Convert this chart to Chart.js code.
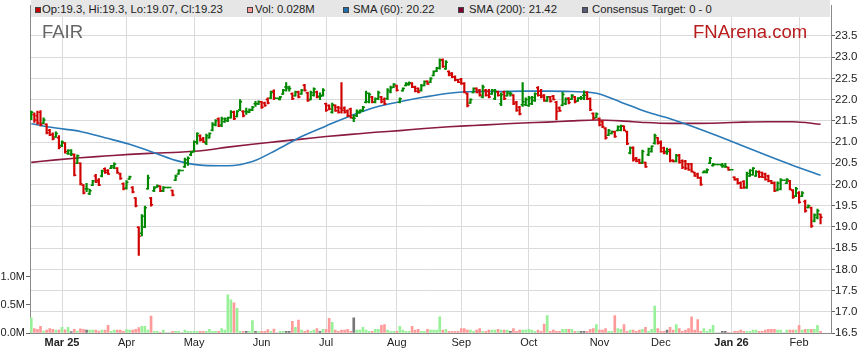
<!DOCTYPE html>
<html>
<head>
<meta charset="utf-8">
<script src="https://cdn.jsdelivr.net/npm/chart.js@4.4.1/dist/chart.umd.min.js"></script>
<style>
  body { margin: 0; background: #fff; font-family: "Liberation Sans", Arial, sans-serif; }
  #wrap { position: relative; width: 859px; height: 363px; }
  #graphic-price { position: absolute; left: 0; top: 0; }
  #legend-bar { position: absolute; left: 31px; top: 0; width: 799px; height: 17px; background: #e6e6e6; }
  .sq { position: absolute; top: 7px; width: 4px; height: 4px; border: 1px solid #444; }
  .txt { position: absolute; top: 3px; font-size: 11.3px; line-height: 13px; color: #222; white-space: nowrap; }
  .mark { position: absolute; top: 23px; font-size: 18.5px; line-height: 1; white-space: nowrap; }
</style>
</head>
<body>
<div id="wrap">
  <canvas id="graphic-price" width="859" height="363"></canvas>
  <div id="legend-bar"></div>
  <div class="sq" style="left:35px;background:#cc0000"></div>
  <div class="txt" style="left:42px">Op:19.3, Hi:19.3, Lo:19.07, Cl:19.23</div>
  <div class="sq" style="left:247px;background:#ff9999"></div>
  <div class="txt" style="left:255px">Vol: 0.028M</div>
  <div class="sq" style="left:343px;background:#1f6eb0"></div>
  <div class="txt" style="left:353px">SMA (60): 20.22</div>
  <div class="sq" style="left:458px;background:#800030"></div>
  <div class="txt" style="left:469px">SMA (200): 21.42</div>
  <div class="sq" style="left:582px;background:#5a5a7a"></div>
  <div class="txt" style="left:592px">Consensus Target: 0 - 0</div>
  <div class="mark" style="left:42px;color:#666">FAIR</div>
  <div class="mark" style="left:693px;color:#b81c1c">FNArena.com</div>
</div>
<script>
// trading day index of the first day of each month, and the axis text
const monthTicks = [10, 31, 53, 75, 96, 119, 140, 162, 185, 205, 228, 250];
const monthLabels = ['Mar 25', 'Apr', 'May', 'Jun', 'Jul', 'Aug', 'Sep', 'Oct', 'Nov', 'Dec', 'Jan 26', 'Feb'];
const priceTicks = [16.5, 17, 17.5, 18, 18.5, 19, 19.5, 20, 20.5, 21, 21.5, 22, 22.5, 23, 23.5];
const volTicks = [0, 0.5, 1];

const openPx = [
  21.58,21.65,21.62,21.70,21.45,21.42,21.28,21.18,21.12,21.10,
  20.92,20.98,20.73,20.72,20.70,20.50,20.50,19.98,19.90,19.78,
  19.98,20.20,20.10,20.20,20.37,20.33,20.38,20.40,20.38,20.25,
  20.02,19.92,20.13,19.93,19.68,18.99,18.85,19.00,19.90,19.68,
  19.85,19.94,19.96,19.84,19.93,19.93,19.86,20.10,20.25,20.33,
  20.42,20.50,20.70,20.78,21.00,21.15,21.08,20.98,21.10,21.28,
  21.40,21.55,21.40,21.48,21.50,21.58,21.70,21.60,21.76,21.72,
  21.72,21.70,21.75,21.90,21.90,21.95,21.92,22.00,22.04,22.20,
  22.03,22.00,22.13,22.30,22.26,22.14,22.09,22.18,22.13,22.34,
  22.16,22.00,22.10,22.18,22.08,22.10,21.90,21.86,21.70,21.86,
  21.82,21.80,21.80,21.74,21.78,21.56,21.62,21.69,21.74,21.94,
  21.95,22.06,21.94,22.02,22.06,22.00,22.02,22.18,22.29,22.32,
  21.94,22.21,22.33,22.35,22.38,22.30,22.26,22.22,22.33,22.43,
  22.41,22.57,22.67,22.74,22.94,22.73,22.66,22.62,22.54,22.47,
  22.48,22.38,22.14,21.92,22.17,22.26,22.22,22.06,22.22,22.20,
  22.13,22.02,22.18,21.90,22.18,22.09,22.14,22.10,21.94,21.82,
  21.88,21.88,21.86,21.90,21.98,22.28,22.20,22.10,21.97,22.06,
  22.08,21.94,21.80,21.87,21.90,22.03,22.01,22.06,21.97,22.04,
  22.10,22.17,22.02,21.67,21.58,21.55,21.48,21.32,21.16,21.20,
  21.24,21.27,21.28,21.37,21.24,20.74,20.87,20.62,20.58,20.52,
  20.52,20.70,20.78,20.97,21.10,21.00,20.86,20.78,20.82,20.57,
  20.55,20.69,20.56,20.55,20.48,20.48,20.28,20.25,20.16,20.28,
  20.28,20.50,20.45,20.47,20.47,20.45,20.42,20.40,20.35,20.17,
  20.13,20.04,20.07,19.93,20.20,20.23,20.20,20.30,20.28,20.25,
  20.20,20.09,20.04,19.87,19.89,20.10,20.03,20.08,19.86,19.73,
  19.80,19.72,19.60,19.46,19.45,19.14,19.22,19.30
];
const highPx = [
  21.73,21.69,21.73,21.74,21.57,21.43,21.30,21.22,21.24,21.15,
  21.03,20.99,20.82,20.82,20.72,20.70,20.51,20.00,20.03,19.89,
  20.10,20.24,20.14,20.34,20.39,20.35,20.45,20.51,20.40,20.27,
  20.04,20.09,20.20,19.95,19.69,19.00,19.29,19.49,20.22,19.70,
  19.95,19.99,19.97,19.95,19.93,19.93,19.87,20.22,20.35,20.33,
  20.62,20.65,20.78,21.03,21.22,21.17,21.11,21.19,21.22,21.46,
  21.53,21.57,21.59,21.57,21.59,21.74,21.73,21.74,22.00,21.74,
  21.80,21.78,21.84,21.96,21.97,21.96,21.94,22.04,22.20,22.23,
  22.03,22.08,22.24,22.40,22.32,22.16,22.20,22.20,22.24,22.36,
  22.18,22.20,22.28,22.20,22.16,22.26,21.92,21.88,21.92,21.88,
  21.84,22.40,21.83,21.76,21.80,21.64,21.76,21.76,21.84,22.20,
  22.16,22.08,22.04,22.20,22.08,22.04,22.26,22.32,22.38,22.34,
  22.04,22.28,22.40,22.42,22.40,22.32,22.28,22.36,22.44,22.44,
  22.52,22.68,22.76,22.96,22.96,22.92,22.68,22.64,22.56,22.48,
  22.50,22.40,22.16,22.02,22.28,22.28,22.24,22.34,22.24,22.24,
  22.24,22.24,22.20,22.16,22.20,22.20,22.18,22.12,21.96,21.84,
  22.40,22.04,22.08,22.08,22.16,22.31,22.24,22.12,22.08,22.08,
  22.10,21.96,21.83,22.17,22.04,22.05,22.12,22.08,22.05,22.08,
  22.21,22.19,22.04,21.69,21.69,21.57,21.50,21.34,21.30,21.26,
  21.26,21.38,21.40,21.38,21.26,20.89,20.89,20.64,20.60,20.81,
  20.53,20.86,20.91,21.19,21.11,21.03,20.88,20.86,20.84,20.58,
  20.71,20.71,20.58,20.57,20.50,20.50,20.29,20.27,20.18,20.32,
  20.37,20.64,20.50,20.47,20.47,20.50,20.50,20.41,20.35,20.18,
  20.14,20.06,20.09,20.29,20.35,20.40,20.33,20.32,20.29,20.27,
  20.22,20.10,20.06,20.06,20.14,20.10,20.14,20.10,19.88,19.93,
  19.83,19.83,19.63,19.52,19.47,19.31,19.42,19.30
];
const lowPx = [
  21.53,21.46,21.42,21.38,21.43,21.19,21.15,21.05,21.11,20.84,
  20.89,20.74,20.71,20.68,20.20,20.49,19.99,19.78,19.83,19.76,
  19.97,20.04,19.97,20.18,20.26,20.24,20.37,20.37,20.26,20.12,
  19.87,19.89,20.12,19.80,19.47,18.33,18.79,18.98,19.89,19.49,
  19.83,19.93,19.83,19.83,19.93,19.93,19.73,20.09,20.24,20.33,
  20.40,20.45,20.68,20.76,20.95,21.02,20.99,20.94,21.09,21.26,
  21.38,21.36,21.36,21.46,21.48,21.56,21.53,21.59,21.74,21.59,
  21.65,21.69,21.74,21.84,21.88,21.79,21.84,21.90,22.02,22.00,
  22.03,21.99,22.12,22.20,22.20,22.00,22.08,22.04,22.12,22.20,
  21.96,21.99,22.08,22.04,22.00,22.08,21.72,21.76,21.68,21.72,
  21.68,21.68,21.68,21.60,21.56,21.48,21.60,21.68,21.72,21.92,
  21.92,21.92,21.92,22.00,21.92,21.88,22.00,22.16,22.28,22.20,
  21.92,22.20,22.32,22.34,22.28,22.18,22.16,22.20,22.32,22.36,
  22.40,22.56,22.66,22.72,22.76,22.71,22.56,22.52,22.44,22.40,
  22.36,22.16,21.83,21.91,22.16,22.16,22.08,22.04,22.08,22.04,
  22.12,22.00,22.08,21.86,22.00,22.08,22.08,21.88,21.72,21.64,
  21.84,21.86,21.84,21.88,21.96,22.08,22.04,21.96,21.96,21.94,
  21.99,21.52,21.72,21.85,21.88,21.90,22.00,21.92,21.96,22.00,
  22.00,22.00,21.74,21.53,21.57,21.38,21.34,21.07,21.15,21.19,
  21.11,21.26,21.26,21.26,20.94,20.72,20.55,20.53,20.49,20.49,
  20.40,20.68,20.76,20.95,20.95,20.76,20.72,20.71,20.53,20.53,
  20.53,20.50,20.37,20.35,20.33,20.29,20.19,20.14,19.98,20.27,
  20.27,20.49,20.43,20.47,20.47,20.40,20.40,20.33,20.35,20.10,
  20.01,19.91,19.91,19.91,20.19,20.22,20.19,20.16,20.16,20.10,
  20.06,20.02,19.83,19.85,19.87,20.10,20.02,19.87,19.67,19.71,
  19.56,19.71,19.35,19.45,18.99,19.12,19.19,19.07
];
const closePx = [
  21.70,21.52,21.45,21.42,21.52,21.22,21.17,21.08,21.20,20.88,
  21.00,20.78,20.80,20.72,20.22,20.68,20.02,19.80,19.90,19.85,
  20.08,20.06,19.99,20.32,20.28,20.25,20.44,20.48,20.28,20.14,
  19.90,20.05,20.18,19.82,19.50,18.78,19.25,19.45,20.15,19.52,
  19.92,19.97,19.85,19.93,19.93,19.93,19.75,20.20,20.33,20.33,
  20.58,20.62,20.76,21.00,21.20,21.05,21.00,21.15,21.20,21.42,
  21.50,21.38,21.55,21.55,21.57,21.70,21.55,21.72,21.95,21.62,
  21.72,21.76,21.82,21.90,21.95,21.82,21.86,21.92,22.17,22.03,
  22.03,22.06,22.22,22.30,22.26,22.02,22.18,22.06,22.22,22.22,
  21.98,22.16,22.25,22.06,22.08,22.22,21.75,21.78,21.88,21.74,
  21.70,21.75,21.70,21.62,21.58,21.56,21.72,21.75,21.82,22.15,
  22.12,21.94,22.02,22.16,21.95,21.90,22.22,22.28,22.36,22.22,
  22.02,22.26,22.38,22.40,22.30,22.20,22.18,22.33,22.42,22.37,
  22.50,22.66,22.74,22.92,22.78,22.88,22.58,22.54,22.46,22.41,
  22.38,22.18,21.86,22.00,22.26,22.17,22.10,22.30,22.10,22.06,
  22.22,22.20,22.10,22.12,22.02,22.18,22.14,21.90,21.75,21.66,
  21.95,22.00,22.04,22.05,22.14,22.10,22.06,21.98,22.06,21.96,
  22.00,21.72,21.74,22.12,22.00,21.93,22.10,21.95,22.03,22.04,
  22.10,22.02,21.76,21.56,21.66,21.40,21.36,21.10,21.27,21.25,
  21.13,21.36,21.38,21.28,20.96,20.86,20.58,20.55,20.50,20.78,
  20.42,20.84,20.90,21.15,20.97,20.78,20.74,20.78,20.56,20.54,
  20.68,20.52,20.40,20.38,20.35,20.31,20.20,20.16,20.00,20.31,
  20.35,20.62,20.47,20.47,20.47,20.45,20.42,20.35,20.35,20.11,
  20.03,19.92,19.93,20.26,20.33,20.38,20.30,20.18,20.17,20.12,
  20.08,20.03,19.85,20.03,20.10,20.10,20.12,19.89,19.70,19.90,
  19.58,19.80,19.38,19.50,19.02,19.28,19.38,19.23
];
// volume in millions of shares
const volumeM = [
  0.27,0.08,0.065,0.12,0.035,0.05,0.08,0.065,0.05,0.05,
  0.1,0.055,0.1,0.025,0.065,0.035,0.075,0.065,0.05,0.05,
  0.05,0.05,0.035,0.05,0.05,0.135,0.03,0.05,0.05,0.05,
  0.03,0.06,0.05,0.05,0.065,0.095,0.12,0.12,0.05,0.3,
  0.03,0.03,0.01,0.05,0,0,0.03,0.03,0.03,0,
  0.05,0.03,0.03,0.03,0.03,0.03,0.03,0.03,0.065,0.03,
  0.03,0.03,0.08,0.05,0.68,0.59,0.54,0.44,0.03,0.03,
  0.03,0.03,0.22,0.03,0.03,0.03,0.03,0.06,0.03,0.07,
  0,0.03,0.03,0.03,0.03,0.21,0.1,0.23,0.05,0.03,
  0.05,0.03,0.05,0.08,0.03,0.065,0.065,0.26,0.19,0.05,
  0.03,0.05,0.05,0.065,0.03,0.27,0.05,0.05,0.1,0.05,
  0.03,0.03,0.065,0.065,0.135,0.15,0.05,0.03,0.03,0.03,
  0.12,0.05,0.03,0.03,0.12,0.05,0.065,0.03,0.03,0.065,
  0.05,0.05,0.05,0.29,0.05,0.065,0.03,0.03,0.03,0.03,
  0.08,0.08,0.05,0.05,0.03,0.05,0.08,0.03,0.03,0.05,
  0.05,0.05,0.065,0.05,0.05,0.05,0.03,0.08,0.03,0.05,
  0.05,0.05,0.065,0.05,0.03,0.05,0.03,0.16,0.31,0.03,
  0.05,0.03,0.03,0.065,0.065,0.065,0.065,0.03,0.03,0.03,
  0.03,0.03,0.065,0.08,0.15,0.05,0.05,0.08,0.03,0.03,
  0.31,0.08,0.065,0.15,0.03,0.05,0.05,0.03,0.05,0.065,
  0.1,0.03,0.065,0.48,0.08,0.03,0.03,0.05,0.1,0.05,
  0.15,0.08,0.03,0.05,0.08,0.29,0.05,0.24,0.03,0.08,
  0.03,0.065,0.135,0,0,0.03,0.03,0.01,0,0.03,
  0.03,0.05,0.03,0.03,0.03,0.05,0.05,0.03,0.03,0.05,
  0.065,0.065,0.065,0.05,0.05,0,0.05,0.05,0.05,0.05,
  0.135,0.05,0.065,0.065,0.065,0.065,0.135,0.028
];
// moving averages at these trading days
const smaDays = [0, 8, 16, 24, 32, 40, 48, 56, 64, 72, 80, 88, 96, 104, 112, 120, 128,
  136, 144, 152, 160, 168, 176, 184, 192, 200, 208, 216, 224, 232, 240, 248, 257];
const sma60 = [21.43, 21.33, 21.25, 21.10, 20.95, 20.75, 20.55, 20.45, 20.44, 20.54, 20.82, 21.13, 21.38,
  21.62, 21.82, 21.95, 22.06, 22.15, 22.19, 22.19, 22.20, 22.20, 22.19, 22.15, 21.94, 21.72, 21.55,
  21.35, 21.13, 20.90, 20.67, 20.45, 20.22];
const sma200 = [20.52, 20.58, 20.63, 20.67, 20.71, 20.74, 20.76, 20.80, 20.88, 20.95, 21.01, 21.07, 21.13,
  21.18, 21.23, 21.27, 21.32, 21.36, 21.39, 21.42, 21.45, 21.47, 21.50, 21.52, 21.50, 21.46, 21.44,
  21.44, 21.45, 21.47, 21.48, 21.48, 21.42];

Chart.defaults.font.family = '"Liberation Sans", Arial, sans-serif';
Chart.defaults.color = '#222';

function barColour(i) {
  return closePx[i] < openPx[i] ? '#d00000' : '#008800';
}
function volColour(i) {
  if (closePx[i] > openPx[i]) return '#98f098';
  if (closePx[i] < openPx[i]) return '#ff9a9a';
  return '#777777';
}

const gridColour = '#dadada';
const axisColour = '#8a8a8a';

const config = {
  type: 'bar',
  data: {
    datasets: [
      {
        type: 'scatter', yAxisID: 'y',
        data: openPx.map((v, i) => ({ x: i - 0.33, y: v })),
        pointStyle: 'line', pointRadius: 1, pointBorderWidth: 1.5,
        pointBorderColor: ctx => barColour(ctx.dataIndex), order: 0
      },
      {
        type: 'scatter', yAxisID: 'y',
        data: closePx.map((v, i) => ({ x: i + 0.33, y: v })),
        pointStyle: 'line', pointRadius: 1, pointBorderWidth: 1.5,
        pointBorderColor: ctx => barColour(ctx.dataIndex), order: 0
      },
      {
        type: 'bar', yAxisID: 'y', grouped: false,
        data: highPx.map((v, i) => ({ x: i, y: [lowPx[i], v] })),
        backgroundColor: ctx => barColour(ctx.dataIndex),
        barThickness: 1.5, order: 1
      },
      {
        type: 'line', yAxisID: 'y',
        data: smaDays.map((d, k) => ({ x: d, y: sma60[k] })),
        borderColor: '#2a7ab8', borderWidth: 1.6, pointRadius: 0,
        cubicInterpolationMode: 'monotone', order: 2
      },
      {
        type: 'line', yAxisID: 'y',
        data: smaDays.map((d, k) => ({ x: d, y: sma200[k] })),
        borderColor: '#8a1a40', borderWidth: 1.6, pointRadius: 0,
        cubicInterpolationMode: 'monotone', order: 2
      },
      {
        type: 'bar', yAxisID: 'yVol', grouped: false,
        data: volumeM.map((v, i) => ({ x: i, y: v })),
        backgroundColor: ctx => volColour(ctx.dataIndex),
        barThickness: 2, order: 3
      }
    ]
  },
  options: {
    responsive: false,
    animation: false,
    events: [],
    layout: { padding: 0 },
    plugins: { legend: { display: false }, tooltip: { enabled: false } },
    scales: {
      x: {
        type: 'linear', min: -0.42, max: 260.4, offset: false,
        grid: { color: gridColour, drawTicks: false, offset: false },
        border: { color: axisColour },
        afterBuildTicks: s => { s.ticks = monthTicks.map(v => ({ value: v })); },
        ticks: {
          autoSkip: false, maxRotation: 0, padding: 3,
          callback: v => monthLabels[monthTicks.indexOf(v)],
          font: ctx => ({ size: 11, weight: /\d/.test(monthLabels[ctx.index] || '') ? 'bold' : 'normal' })
        },
        afterFit: s => { s.height = 30; s.paddingLeft = 0; s.paddingRight = 0; }
      },
      y: {
        position: 'right', min: 16.5, max: 24.218,
        grid: { color: gridColour, tickLength: 4, tickColor: '#666' },
        border: { color: axisColour },
        afterBuildTicks: s => { s.ticks = priceTicks.map(v => ({ value: v })); },
        ticks: { padding: 0, font: { size: 11.5 }, callback: v => v.toFixed(1) },
        afterFit: s => { s.width = 28; s.paddingTop = 0; s.paddingBottom = 0; }
      },
      yVol: {
        position: 'left', min: 0, max: 5.842,
        grid: { drawOnChartArea: false, tickLength: 4, tickColor: '#666' },
        border: { color: axisColour },
        afterBuildTicks: s => { s.ticks = volTicks.map(v => ({ value: v })); },
        ticks: { padding: 1, font: { size: 11 }, callback: v => v.toFixed(1) + 'M' },
        afterFit: s => { s.width = 30; s.paddingTop = 0; s.paddingBottom = 0; }
      }
    }
  }
};

new Chart(document.getElementById('graphic-price'), config);
</script>
</body>
</html>
